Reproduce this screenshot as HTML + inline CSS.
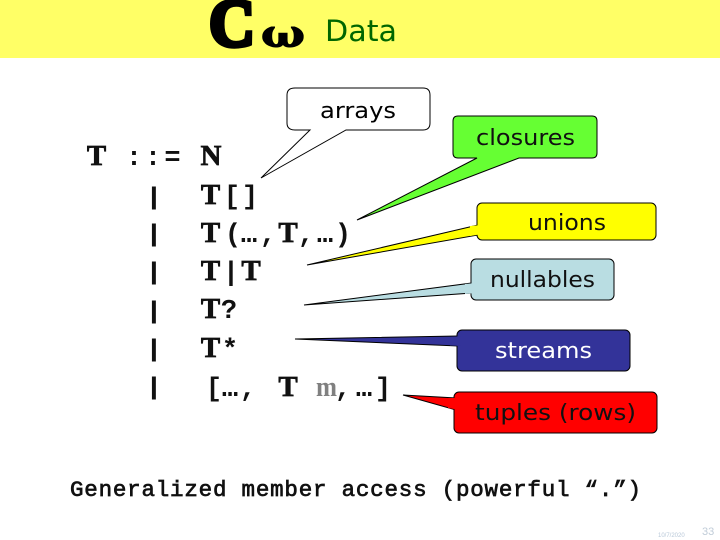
<!DOCTYPE html>
<html><head><meta charset="utf-8"><style>
html,body{margin:0;padding:0;background:#fff;width:720px;height:540px;overflow:hidden}
svg{display:block}
.m{font-family:"Liberation Mono",monospace;font-weight:bold;font-size:27px;fill:#111;text-anchor:middle}
.t{font-family:"Liberation Serif",serif;font-weight:bold;font-size:29px;fill:#111;stroke:#111;stroke-width:.7;text-anchor:middle}
.s{font-family:"DejaVu Sans",sans-serif;font-size:22px}
</style></head><body>
<svg width="720" height="540" viewBox="0 0 720 540" xmlns="http://www.w3.org/2000/svg">
<rect x="0" y="0" width="720" height="58" fill="#ffff66"/>
<text x="209" y="46" font-family="Liberation Serif,serif" font-weight="bold" font-size="68" textLength="46" lengthAdjust="spacingAndGlyphs" stroke="#000" stroke-width="4.5" fill="#000">C</text>
<text x="261" y="47" font-family="DejaVu Serif,serif" font-weight="bold" font-size="38" textLength="44" lengthAdjust="spacingAndGlyphs" stroke="#000" stroke-width="1" fill="#000">ω</text>
<text x="325" y="41" font-family="DejaVu Sans,sans-serif" font-size="29" textLength="72" lengthAdjust="spacingAndGlyphs" fill="#006600">Data</text>

<path d="M295 88H423Q430 88 430 95V123Q430 130 423 130H346L261 178L310 130H295Q287 130 287 123V95Q287 88 295 88Z" fill="#fff" stroke="#000" stroke-width="1"/>
<text x="320" y="118" class="s" textLength="76" lengthAdjust="spacingAndGlyphs" fill="#000">arrays</text>

<path d="M458 116H592Q597 116 597 121V153Q597 158 592 158H519L357 220L477 158H458Q453 158 453 153V121Q453 116 458 116Z" fill="#66ff33" stroke="#000" stroke-width="1"/>
<text x="476" y="145" class="s" textLength="99" lengthAdjust="spacingAndGlyphs" fill="#111">closures</text>

<path d="M307 265L478 225V235Z" fill="#ffff00" stroke="#000"/>
<rect x="477" y="203" width="179" height="37" rx="5" fill="#ffff00" stroke="#000"/>
<path d="M470 226L482 225V234L470 236Z" fill="#ffff00"/>
<text x="528" y="230" class="s" textLength="78" lengthAdjust="spacingAndGlyphs" fill="#111">unions</text>

<path d="M304 305L472 283V293Z" fill="#b9dde2" stroke="#000"/>
<rect x="471" y="259" width="143" height="41" rx="5" fill="#b9dde2" stroke="#000"/>
<path d="M465 284L476 283V293L465 294Z" fill="#b9dde2"/>
<text x="490" y="287" class="s" textLength="105" lengthAdjust="spacingAndGlyphs" fill="#111">nullables</text>

<path d="M295 339L458 336V346Z" fill="#333399" stroke="#000"/>
<rect x="457" y="330" width="173" height="41" rx="5" fill="#333399" stroke="#000"/>
<path d="M450 337L462 336V346L450 345.5Z" fill="#333399"/>
<text x="495" y="358" class="s" textLength="97" lengthAdjust="spacingAndGlyphs" fill="#fff">streams</text>

<path d="M403 395L456 398V410Z" fill="#ff0000" stroke="#000"/>
<rect x="454" y="392" width="203" height="41" rx="5" fill="#ff0000" stroke="#000"/>
<path d="M448 398L460 398V410L448 408Z" fill="#ff0000"/>
<text x="475" y="420" class="s" textLength="161" lengthAdjust="spacingAndGlyphs" fill="#111">tuples (rows)</text>

<text class="t" x="96.5" y="165">T</text>
<text class="m" x="134" y="165">:</text>
<text class="m" x="153" y="165">:</text>
<text class="m" x="172.5" y="165">=</text>
<text class="t" x="211" y="165">N</text>

<g style="font-family:'Liberation Mono',monospace;font-weight:bold;font-size:23px;fill:#111;stroke:#111;stroke-width:1">
<text x="147" y="204">|</text>
<text x="147" y="241">|</text>
<text x="147" y="279">|</text>
<text x="147" y="318">|</text>
<text x="147" y="356">|</text>
<text x="147" y="394">|</text>
</g>

<text class="t" x="210.5" y="204">T</text><text class="m" x="232" y="204">[</text><text class="m" x="250" y="204">]</text>

<text class="t" x="210.5" y="242">T</text><text class="m" x="233" y="242">(</text><text class="m" x="249" y="242">…</text><text class="m" x="268" y="242">,</text><text class="t" x="288" y="242">T</text><text class="m" x="306" y="242">,</text><text class="m" x="325" y="242">…</text><text class="m" x="343" y="242">)</text>

<text class="t" x="210.5" y="280">T</text><text class="m" x="231" y="280">|</text><text class="t" x="251" y="280">T</text>

<text class="t" x="210.5" y="318">T</text><text class="m" x="229" y="318">?</text>

<text class="t" x="210.5" y="357">T</text><text class="m" x="230" y="357">*</text>

<text class="m" x="214" y="396">[</text><text class="m" x="230" y="396">…</text><text class="m" x="248" y="396">,</text><text class="t" x="288" y="396">T</text><text x="316" y="396" font-family="Liberation Serif,serif" font-weight="bold" font-size="29" textLength="21" lengthAdjust="spacingAndGlyphs" fill="#808080">m</text><text class="m" x="343" y="396">,</text><text class="m" x="364" y="396">…</text><text class="m" x="383" y="396">]</text>

<text x="70" y="496" font-family="Liberation Mono,monospace" font-size="22.5" stroke="#111" stroke-width=".7" textLength="571" lengthAdjust="spacing" fill="#111">Generalized member access (powerful “.”)</text>

<text x="658" y="537" font-family="Liberation Sans,sans-serif" font-size="6" fill="#b8c8d8">10/7/2020</text>
<text x="702" y="535" font-family="Liberation Sans,sans-serif" font-size="11" fill="#c0ccd8">33</text>
</svg>
</body></html>
